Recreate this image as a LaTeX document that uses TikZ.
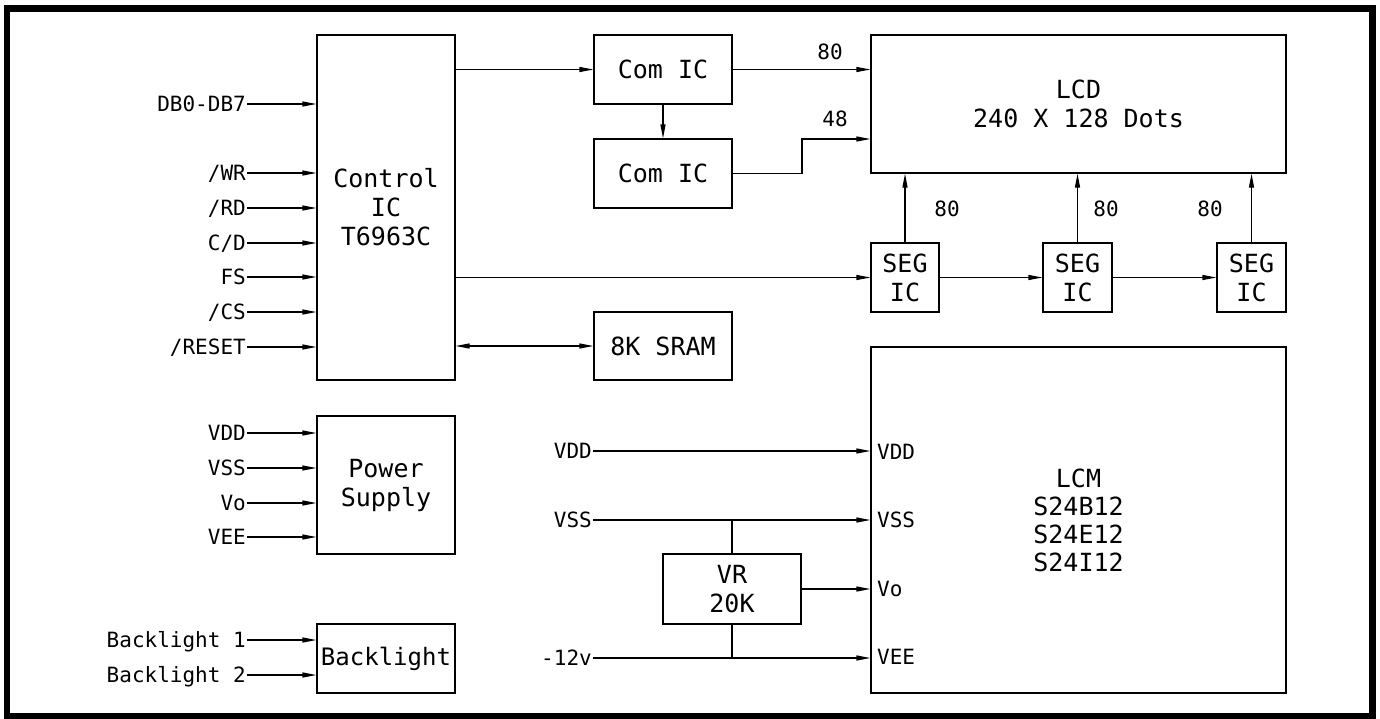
\documentclass[tikz,border=0pt]{standalone}
\usepackage{fontspec}
\setmainfont{DejaVu Sans Mono}
\usetikzlibrary{arrows.meta}
\begin{document}
\begin{tikzpicture}[x=1pt,y=-1pt,
  box/.style={draw, line width=1.2pt, inner sep=0pt, align=center, font=\fontsize{25}{29}\selectfont},
  lbl/.style={inner sep=1pt, font=\fontsize{21}{25}\selectfont, text height=15pt, text depth=0pt},
  sig/.style={line width=1.2pt, -{Triangle[length=14pt,width=5pt]}},
  dsig/.style={line width=1.2pt, {Triangle[length=14pt,width=5pt]}-{Triangle[length=14pt,width=5pt]}},
  wire/.style={line width=1.2pt}]
\useasboundingbox (0,0) rectangle (1380,718);
\draw[line width=6.5pt] (7,8.5) rectangle (1372.5,716);

% boxes
\node[box, minimum width=138, minimum height=345] (ctrl) at (386,207.5) {Control\\IC\\T6963C};
\node[box, minimum width=138, minimum height=69] (com1) at (663,69.5) {Com IC};
\node[box, minimum width=138, minimum height=69] (com2) at (663,173.5) {Com IC};
\node[box, minimum width=138, minimum height=68] (sram) at (663,346) {8K SRAM};
\node[box, minimum width=415, minimum height=138] (lcd) at (1078.5,104) {LCD\\240 X 128 Dots};
\node[box, minimum width=68, minimum height=69] (seg1) at (905,277.5) {SEG\\IC};
\node[box, minimum width=69, minimum height=69] (seg2) at (1077.5,277.5) {SEG\\IC};
\node[box, minimum width=69, minimum height=69] (seg3) at (1251.5,277.5) {SEG\\IC};
\node[box, minimum width=415, minimum height=346, font=\fontsize{25}{28}\selectfont] (lcm) at (1078.5,520) {LCM\\S24B12\\S24E12\\S24I12};
\node[box, minimum width=138, minimum height=138] (psu) at (386,485) {Power\\Supply};
\node[box, minimum width=138, minimum height=69, font=\fontsize{24}{28}\selectfont] (bl) at (386,658.5) {Backlight};
\node[box, minimum width=138, minimum height=70] (vr) at (732,589) {VR\\20K};

% control IC inputs
\node[lbl, anchor=east] (i1) at (247,104) {DB0-DB7};
\node[lbl, anchor=east] (i2) at (247,173) {/WR};
\node[lbl, anchor=east] (i3) at (247,208) {/RD};
\node[lbl, anchor=east] (i4) at (247,243) {C/D};
\node[lbl, anchor=east] (i5) at (247,277) {FS};
\node[lbl, anchor=east] (i6) at (247,312) {/CS};
\node[lbl, anchor=east] (i7) at (247,347) {/RESET};
\foreach \n in {i1,i2,i3,i4,i5,i6,i7}
  \draw[sig] (\n.east) -- (\n.east -| ctrl.west);

% power supply inputs
\node[lbl, anchor=east] (p1) at (247,433) {VDD};
\node[lbl, anchor=east] (p2) at (247,468) {VSS};
\node[lbl, anchor=east] (p3) at (247,503) {Vo};
\node[lbl, anchor=east] (p4) at (247,537) {VEE};
\node[lbl, anchor=east] (b1) at (247,640) {Backlight 1};
\node[lbl, anchor=east] (b2) at (247,675) {Backlight 2};
\foreach \n in {p1,p2,p3,p4}
  \draw[sig] (\n.east) -- (\n.east -| psu.west);
\foreach \n in {b1,b2}
  \draw[sig] (\n.east) -- (\n.east -| bl.west);

% control to com / seg / sram
\draw[sig] (ctrl.east |- com1.west) -- (com1.west);
\draw[sig] (com1.south) -- (com2.north);
\draw[sig] (com1.east) -- (com1.east -| lcd.west);
\node[lbl] (l80a) at (830,52) {80};
\coordinate (j48) at (802,139);
\draw[sig] (com2.east) -| (j48) -- (j48 -| lcd.west);
\node[lbl] (l48) at (835,119) {48};
\draw[sig] (ctrl.east |- seg1.west) -- (seg1.west);
\draw[dsig] (ctrl.east |- sram.west) -- (sram.west);
\draw[sig] (seg1.east) -- (seg2.west);
\draw[sig] (seg2.east) -- (seg3.west);
\draw[sig] (seg1.north) -- (seg1.north |- lcd.south);
\draw[sig] (seg2.north) -- (seg2.north |- lcd.south);
\draw[sig] (seg3.north) -- (seg3.north |- lcd.south);
\node[lbl] (l80b) at (947,209) {80};
\node[lbl] (l80c) at (1106,209) {80};
\node[lbl] (l80d) at (1210,209) {80};

% LCM supply
\node[lbl, anchor=east] (m1) at (593,451) {VDD};
\node[lbl, anchor=east] (m2) at (593,520) {VSS};
\node[lbl, anchor=east] (m4) at (593,658) {-12v};
\draw[sig] (m1.east) -- (m1.east -| lcm.west);
\draw[sig] (m2.east) -- (m2.east -| lcm.west);
\draw[sig] (m4.east) -- (m4.east -| lcm.west);
\draw[wire] (vr.north) -- (vr.north |- m2.east);
\draw[wire] (vr.south) -- (vr.south |- m4.east);
\draw[sig] (vr.east) -- (vr.east -| lcm.west);
\node[lbl, anchor=west] (q1) at (876,452) {VDD};
\node[lbl, anchor=west] (q2) at (876,520) {VSS};
\node[lbl, anchor=west] (q3) at (876,589) {Vo};
\node[lbl, anchor=west] (q4) at (876,657) {VEE};
\end{tikzpicture}
\end{document}
